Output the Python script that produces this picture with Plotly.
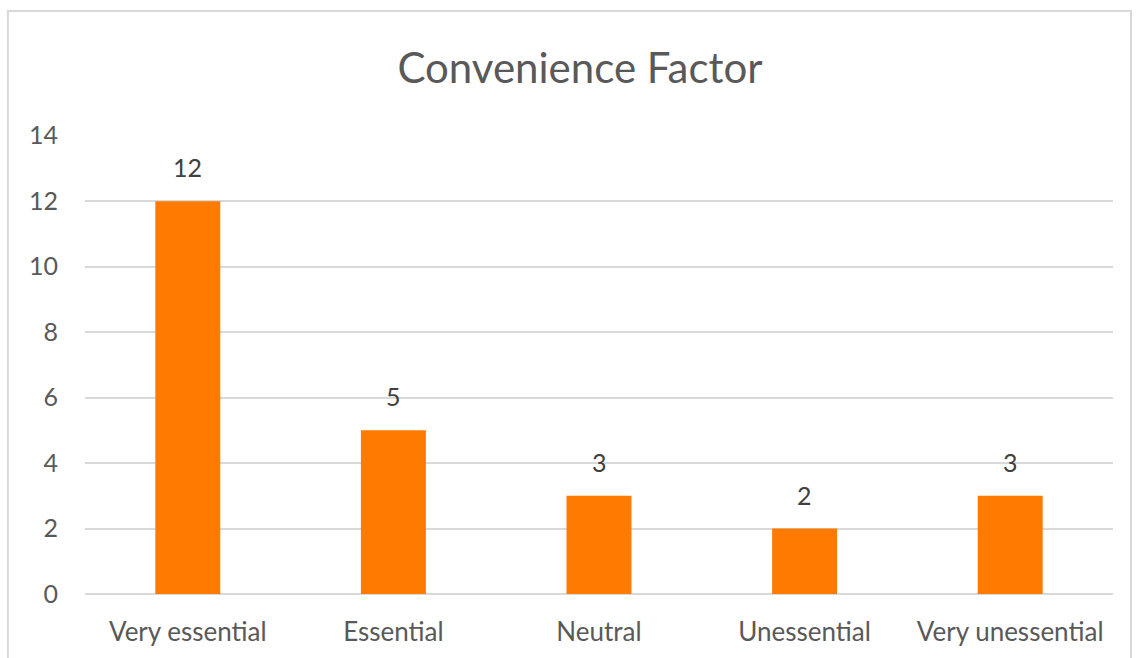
import plotly.graph_objects as go

categories = ["Very essential", "Essential", "Neutral", "Unessential", "Very unessential"]
counts = [12, 5, 3, 2, 3]
y_ticks = [0, 2, 4, 6, 8, 10, 12, 14]

FONT = "Lato, 'Open Sans', sans-serif"
GRAY = "#595959"

fig = go.Figure(
    go.Bar(
        x=categories,
        y=counts,
        marker=dict(color="#FF7A00", line=dict(width=0)),
        hoverinfo="x+y",
    )
)

# value labels above each bar
for cat, val in zip(categories, counts):
    fig.add_annotation(
        x=cat, y=val, text=str(val), showarrow=False,
        yanchor="bottom", yshift=17,
        font=dict(family=FONT, size=25, color="#404040"),
    )

# outer chart frame
fig.add_shape(
    type="rect", xref="paper", yref="paper",
    x0=-0.075, x1=1.0175, y0=-0.25, y1=1.270,
    line=dict(color="#D9D9D9", width=2), fillcolor="rgba(0,0,0,0)",
    layer="below",
)

fig.update_layout(
    width=1141, height=658,
    margin=dict(l=85, r=28, t=135, b=64),
    paper_bgcolor="white", plot_bgcolor="white",
    bargap=0.684,
    showlegend=False,
    title=dict(
        text="Convenience Factor", xref="container", x=580 / 1141,
        xanchor="center", y=1 - 68 / 658, yanchor="middle",
        font=dict(family=FONT, size=42, color=GRAY),
    ),
    font=dict(family=FONT, color=GRAY),
    xaxis=dict(
        showgrid=False, showline=False, zeroline=False, ticks="",
        ticklabelstandoff=20,
        tickfont=dict(family=FONT, size=26, color=GRAY),
    ),
    yaxis=dict(
        range=[0, 14.02], tickvals=y_ticks, showgrid=True,
        gridcolor="#D9D9D9", gridwidth=1.5, zeroline=True,
        zerolinecolor="#D9D9D9", zerolinewidth=1.5, showline=False,
        ticks="", ticklabelstandoff=26,
        tickfont=dict(family=FONT, size=25, color=GRAY),
    ),
)

fig.write_html("out.html")
